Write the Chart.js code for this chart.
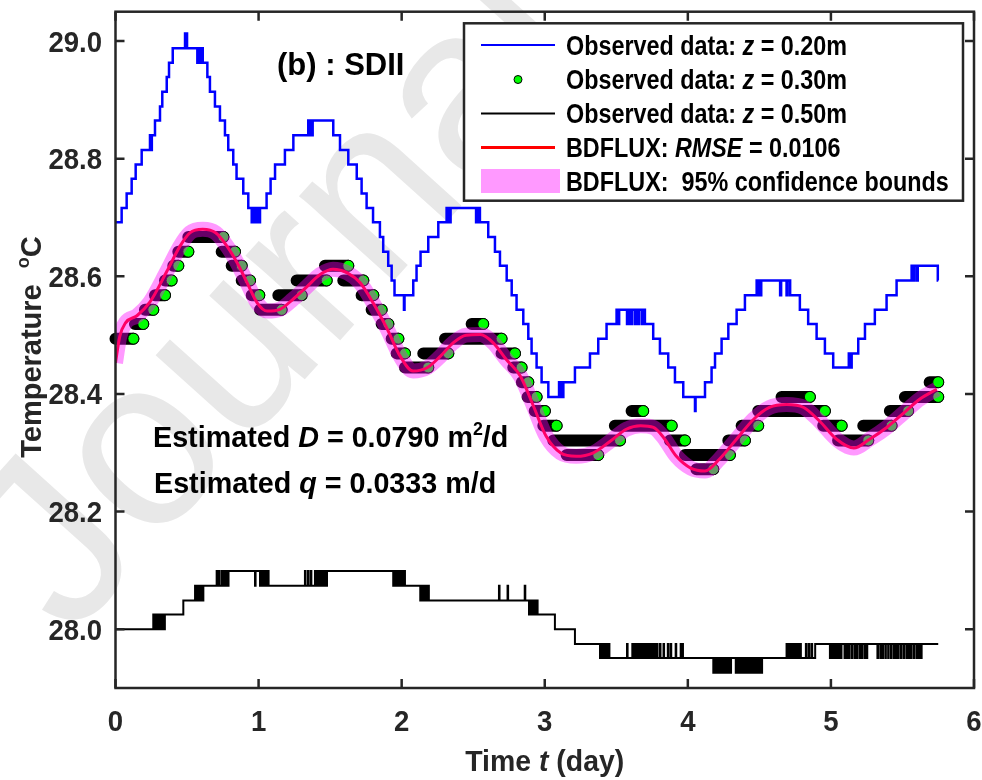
<!DOCTYPE html>
<html>
<head>
<meta charset="utf-8">
<script src="https://cdn.jsdelivr.net/npm/chart.js@4.4.1/dist/chart.umd.min.js"></script>
<style>
  html, body { margin: 0; padding: 0; background: #fff; }
  #wrap { width: 982px; height: 780px; }
</style>
</head>
<body>
<div id="wrap"><canvas id="myChart" width="982" height="780"></canvas></div>
<script>
// axis ticks
const xTicks = [0, 1, 2, 3, 4, 5, 6];
const xTickLabels = ['0', '1', '2', '3', '4', '5', '6'];
const yTicks = [28.0, 28.2, 28.4, 28.6, 28.8, 29.0];
const yTickLabels = ['28.0', '28.2', '28.4', '28.6', '28.8', '29.0'];

// z = 0.20m observed, change points [day, degC] (stepped)
const blueSteps = [
  [0.000,28.692],[0.043,28.716],[0.078,28.741],[0.113,28.766],[0.141,28.790],[0.183,28.815],[0.241,28.840],[0.250,28.815],[0.254,28.840],
  [0.276,28.865],[0.311,28.889],[0.327,28.914],[0.358,28.939],[0.374,28.963],[0.400,28.988],[0.486,29.013],[0.500,28.988],
  [0.572,28.963],[0.578,28.988],[0.588,28.963],[0.594,28.988],[0.610,28.963],[0.642,28.939],[0.660,28.914],[0.695,28.889],
  [0.730,28.865],[0.765,28.840],[0.788,28.815],[0.823,28.790],[0.846,28.766],[0.893,28.741],[0.928,28.716],[0.952,28.692],
  [0.962,28.716],[0.967,28.692],[0.978,28.716],[0.983,28.692],[0.995,28.716],[1.000,28.692],[1.010,28.716],[1.056,28.741],
  [1.084,28.766],[1.115,28.790],[1.184,28.815],[1.243,28.840],[1.347,28.865],[1.355,28.840],[1.362,28.865],[1.372,28.840],
  [1.378,28.865],[1.522,28.840],[1.569,28.815],[1.627,28.790],[1.686,28.766],[1.720,28.741],[1.755,28.716],[1.800,28.692],
  [1.848,28.667],[1.871,28.642],[1.906,28.618],[1.930,28.593],[1.950,28.568],[2.016,28.543],[2.020,28.568],[2.081,28.593],
  [2.104,28.618],[2.132,28.642],[2.186,28.667],[2.256,28.692],[2.314,28.716],[2.320,28.692],[2.326,28.716],[2.336,28.692],
  [2.342,28.716],[2.520,28.692],[2.527,28.716],[2.537,28.692],[2.541,28.716],[2.547,28.692],[2.605,28.667],[2.652,28.642],
  [2.687,28.618],[2.734,28.593],[2.769,28.568],[2.803,28.543],[2.850,28.519],[2.885,28.494],[2.908,28.469],[2.943,28.445],
  [2.978,28.420],[3.025,28.395],[3.100,28.420],[3.106,28.395],[3.116,28.420],[3.122,28.395],[3.130,28.420],[3.211,28.445],
  [3.316,28.469],[3.374,28.494],[3.432,28.519],[3.502,28.543],[3.515,28.519],[3.520,28.543],[3.575,28.519],[3.585,28.543],
  [3.600,28.519],[3.610,28.543],[3.630,28.519],[3.640,28.543],[3.655,28.519],[3.660,28.543],[3.680,28.519],[3.690,28.543],
  [3.700,28.519],[3.758,28.494],[3.805,28.469],[3.863,28.445],[3.910,28.420],[3.968,28.395],[4.050,28.371],[4.054,28.395],
  [4.120,28.420],[4.166,28.445],[4.190,28.469],[4.236,28.494],[4.283,28.519],[4.341,28.543],[4.399,28.568],[4.481,28.593],
  [4.490,28.568],[4.497,28.593],[4.507,28.568],[4.513,28.593],[4.645,28.568],[4.652,28.593],[4.690,28.568],[4.697,28.593],
  [4.715,28.568],[4.783,28.543],[4.841,28.519],[4.900,28.494],[4.958,28.469],[5.016,28.445],[5.125,28.469],[5.132,28.445],
  [5.145,28.469],[5.191,28.494],[5.238,28.519],[5.307,28.543],[5.389,28.568],[5.459,28.593],[5.564,28.618],[5.575,28.593],
  [5.582,28.618],[5.600,28.593],[5.607,28.618],[5.747,28.593],[5.750,28.593]
];

// z = 0.50m observed, change points [day, degC] (stepped, sensor flicker kept)
const blackSteps = [
  [0.000,28.000],
  [0.264,28.025],[0.270,28.000],[0.276,28.025],[0.282,28.000],[0.288,28.025],[0.294,28.000],[0.300,28.025],[0.306,28.000],
  [0.312,28.025],[0.318,28.000],[0.324,28.025],[0.330,28.000],[0.336,28.025],[0.340,28.000],[0.345,28.025],
  [0.474,28.049],
  [0.556,28.074],[0.562,28.049],[0.568,28.074],[0.574,28.049],[0.580,28.074],[0.586,28.049],[0.592,28.074],[0.598,28.049],
  [0.604,28.074],[0.608,28.049],[0.614,28.074],
  [0.707,28.099],[0.711,28.074],[0.722,28.099],[0.726,28.074],[0.742,28.099],[0.746,28.074],[0.758,28.099],[0.762,28.074],
  [0.772,28.099],[0.776,28.074],[0.790,28.099],
  [0.975,28.074],[0.979,28.099],
  [1.010,28.074],[1.016,28.099],[1.022,28.074],[1.028,28.099],[1.034,28.074],[1.040,28.099],[1.046,28.074],[1.052,28.099],
  [1.058,28.074],[1.064,28.099],[1.070,28.074],
  [1.324,28.099],[1.328,28.074],[1.345,28.099],[1.349,28.074],[1.365,28.099],[1.369,28.074],
  [1.394,28.099],[1.400,28.074],[1.406,28.099],[1.412,28.074],[1.418,28.099],[1.424,28.074],[1.430,28.099],[1.436,28.074],
  [1.442,28.099],[1.448,28.074],[1.454,28.099],[1.460,28.074],[1.466,28.099],[1.472,28.074],[1.478,28.099],
  [1.941,28.074],[1.947,28.099],[1.953,28.074],[1.959,28.099],[1.965,28.074],[1.971,28.099],[1.977,28.074],[1.983,28.099],
  [1.989,28.074],[1.995,28.099],[2.001,28.074],[2.007,28.099],[2.013,28.074],[2.019,28.099],[2.023,28.074],
  [2.130,28.049],[2.136,28.074],[2.142,28.049],[2.148,28.074],[2.154,28.049],[2.160,28.074],[2.166,28.049],[2.172,28.074],
  [2.178,28.049],[2.184,28.074],[2.190,28.049],
  [2.680,28.074],[2.684,28.049],[2.740,28.074],[2.744,28.049],[2.860,28.074],[2.864,28.049],
  [2.890,28.025],[2.896,28.049],[2.902,28.025],[2.908,28.049],[2.914,28.025],[2.920,28.049],[2.926,28.025],[2.932,28.049],
  [2.938,28.025],[2.944,28.049],[2.950,28.025],
  [3.071,28.000],
  [3.211,27.975],
  [3.386,27.951],[3.392,27.975],[3.396,27.951],[3.404,27.975],[3.408,27.951],[3.416,27.975],[3.420,27.951],[3.432,27.975],
  [3.436,27.951],[3.448,27.975],[3.452,27.951],[3.575,27.975],[3.579,27.951],
  [3.612,27.975],[3.616,27.951],[3.626,27.975],[3.630,27.951],[3.640,27.975],[3.644,27.951],[3.654,27.975],[3.658,27.951],
  [3.668,27.975],[3.672,27.951],[3.682,27.975],[3.686,27.951],[3.696,27.975],[3.700,27.951],[3.710,27.975],[3.714,27.951],
  [3.724,27.975],[3.728,27.951],[3.738,27.975],[3.742,27.951],[3.752,27.975],[3.756,27.951],[3.766,27.975],[3.770,27.951],
  [3.784,27.975],[3.788,27.951],[3.805,27.975],[3.809,27.951],[3.830,27.975],[3.834,27.951],[3.860,27.975],[3.864,27.951],
  [3.880,27.975],[3.884,27.951],[3.915,27.975],[3.919,27.951],[3.950,27.975],[3.954,27.951],[3.962,27.975],[3.966,27.951],
  [4.178,27.926],[4.182,27.951],[4.190,27.926],[4.194,27.951],[4.202,27.926],[4.206,27.951],[4.214,27.926],[4.218,27.951],
  [4.226,27.926],[4.230,27.951],[4.238,27.926],[4.242,27.951],[4.250,27.926],[4.254,27.951],[4.262,27.926],[4.266,27.951],
  [4.274,27.926],[4.278,27.951],[4.286,27.926],[4.290,27.951],[4.298,27.926],[4.302,27.951],[4.335,27.926],[4.339,27.951],
  [4.347,27.926],[4.351,27.951],[4.359,27.926],[4.363,27.951],[4.371,27.926],[4.375,27.951],[4.383,27.926],[4.387,27.951],
  [4.395,27.926],[4.399,27.951],[4.407,27.926],[4.411,27.951],[4.419,27.926],[4.423,27.951],[4.431,27.926],[4.435,27.951],
  [4.443,27.926],[4.447,27.951],[4.455,27.926],[4.459,27.951],[4.467,27.926],[4.471,27.951],[4.479,27.926],[4.483,27.951],
  [4.491,27.926],[4.495,27.951],[4.503,27.926],[4.507,27.951],[4.515,27.926],[4.519,27.951],
  [4.690,27.975],[4.694,27.951],[4.702,27.975],[4.706,27.951],[4.714,27.975],[4.718,27.951],[4.726,27.975],[4.730,27.951],
  [4.738,27.975],[4.742,27.951],[4.750,27.975],[4.754,27.951],[4.762,27.975],[4.766,27.951],[4.774,27.975],[4.778,27.951],
  [4.786,27.975],[4.790,27.951],[4.825,27.975],[4.829,27.951],[4.845,27.975],[4.849,27.951],[4.865,27.975],[4.869,27.951],
  [4.890,27.975],
  [4.993,27.951],[4.997,27.975],[5.008,27.951],[5.012,27.975],[5.023,27.951],[5.027,27.975],[5.038,27.951],[5.042,27.975],
  [5.053,27.951],[5.057,27.975],[5.070,27.951],[5.074,27.975],[5.095,27.951],[5.099,27.975],[5.110,27.951],[5.114,27.975],
  [5.125,27.951],[5.129,27.975],[5.145,27.951],[5.149,27.975],[5.165,27.951],[5.169,27.975],[5.180,27.951],[5.184,27.975],
  [5.200,27.951],[5.204,27.975],[5.215,27.951],[5.219,27.975],[5.235,27.951],[5.239,27.975],[5.250,27.951],[5.254,27.975],
  [5.325,27.951],[5.329,27.975],[5.345,27.951],[5.349,27.975],[5.360,27.951],[5.364,27.975],[5.380,27.951],[5.384,27.975],
  [5.400,27.951],[5.404,27.975],[5.420,27.951],[5.424,27.975],[5.440,27.951],[5.444,27.975],[5.455,27.951],[5.459,27.975],
  [5.470,27.951],[5.474,27.975],[5.490,27.951],[5.494,27.975],[5.510,27.951],[5.514,27.975],[5.530,27.951],[5.534,27.975],
  [5.545,27.951],[5.549,27.975],[5.560,27.951],[5.564,27.975],[5.580,27.951],[5.584,27.975],[5.600,27.951],[5.604,27.975],
  [5.615,27.951],[5.619,27.975],[5.630,27.951],[5.634,27.975],
  [5.750,27.975]
];

// z = 0.30m observed: runs of repeated readings (first day, last day, degC)
const gStart = [0.000,0.136,0.206,0.276,0.346,0.404,0.439,0.509,0.742,0.812,0.882,0.952,1.010,1.138,1.266,1.464,1.592,
  1.720,1.790,1.860,1.930,1.965,2.023,2.151,2.303,2.489,2.698,2.780,2.840,2.880,2.930,2.990,3.060,3.153,3.490,3.607,
  3.875,3.980,4.060,4.283,4.376,4.492,4.655,4.946,5.050,5.226,5.412,5.517,5.690];
const gEnd = [0.125,0.194,0.264,0.346,0.392,0.439,0.509,0.754,0.835,0.882,0.940,1.005,1.161,1.301,1.476,1.627,1.732,
  1.802,1.860,1.907,1.977,2.023,2.186,2.326,2.698,2.570,2.792,2.838,2.885,2.943,3.001,3.083,3.526,3.374,3.887,3.688,
  3.980,4.294,4.178,4.399,4.492,4.958,4.853,5.075,5.261,5.424,5.540,5.750,5.750];
const gLevel = [28.494,28.519,28.543,28.568,28.593,28.618,28.642,28.667,28.642,28.618,28.593,28.568,28.543,28.568,28.593,
  28.618,28.593,28.568,28.543,28.519,28.494,28.469,28.445,28.469,28.494,28.519,28.469,28.445,28.420,28.395,28.371,28.346,
  28.321,28.296,28.346,28.371,28.321,28.296,28.272,28.321,28.346,28.371,28.395,28.346,28.321,28.346,28.371,28.395,28.420];

// BDFLUX fit at z = 0.30m
const fitT = [0.00,0.03,0.07,0.15,0.24,0.36,0.45,0.52,0.61,0.70,0.78,0.85,0.92,0.99,1.06,1.15,1.24,1.34,1.43,1.52,
  1.62,1.71,1.80,1.90,1.99,2.08,2.18,2.27,2.36,2.45,2.55,2.64,2.73,2.83,2.92,3.01,3.11,3.22,3.34,3.46,3.57,3.67,3.76,
  3.83,3.92,4.02,4.12,4.22,4.34,4.46,4.57,4.69,4.81,4.92,5.04,5.16,5.27,5.39,5.51,5.62,5.74];
const fitV = [28.453,28.498,28.521,28.533,28.556,28.609,28.651,28.674,28.680,28.674,28.651,28.623,28.589,28.555,28.541,
  28.544,28.561,28.583,28.603,28.612,28.606,28.589,28.555,28.510,28.464,28.439,28.445,28.464,28.487,28.500,28.501,28.487,
  28.459,28.430,28.380,28.328,28.300,28.294,28.300,28.320,28.340,28.346,28.343,28.326,28.294,28.274,28.269,28.289,28.323,
  28.357,28.377,28.382,28.377,28.354,28.323,28.308,28.323,28.343,28.368,28.391,28.408];

const FONT = '"Liberation Sans", Arial, sans-serif';
const INK = '#262626';
const PINK = 'rgba(255,0,255,0.4)';

const bluePts = blueSteps.map(p => ({x: p[0], y: p[1]}));
const blackPts = blackSteps.map(p => ({x: p[0], y: p[1]}));
const fitPts = fitT.map((t, i) => ({x: t, y: fitV[i]}));
// each run of equal readings: overlapping markers make a dark bar, last marker stays green
const runPts = [];
gStart.forEach((s, i) => {
  runPts.push({x: s, y: gLevel[i]}, {x: gEnd[i], y: gLevel[i]}, {x: gEnd[i], y: null});
});
const lastPts = gEnd.map((e, i) => ({x: e, y: gLevel[i]}));

// text with italic / superscript parts, sx squeezes it horizontally
function drawRich(ctx, parts, x, y, size, align, sx) {
  sx = sx || 1;
  const fontOf = p => (p.i ? 'italic ' : '') + 'bold ' + (p.sup ? Math.round(size * 0.62) : size) + 'px ' + FONT;
  let w = 0;
  const ws = parts.map(p => { ctx.font = fontOf(p); const m = ctx.measureText(p.t).width; w += m; return m; });
  ctx.save();
  ctx.translate(x, y);
  ctx.scale(sx, 1);
  ctx.textAlign = 'left';
  ctx.textBaseline = 'alphabetic';
  let cx = align === 'center' ? -w / 2 : (align === 'right' ? -w : 0);
  parts.forEach((p, k) => {
    ctx.font = fontOf(p);
    ctx.fillText(p.t, cx, p.sup ? -size * 0.42 : 0);
    cx += ws[k];
  });
  ctx.restore();
}

const decor = {
  id: 'decor',
  beforeDatasetsDraw(chart) {
    const ctx = chart.ctx;
    ctx.save();
    ctx.translate(70, 640);
    ctx.rotate(-48 * Math.PI / 180);
    ctx.font = '240px ' + FONT;
    ctx.fillStyle = '#e8e8e8';
    ctx.fillText('Journal Pre-proof', 0, 0);
    ctx.restore();
  },
  afterDatasetsDraw(chart) {
    const {ctx, chartArea: a, scales: {x, y}} = chart;
    ctx.save();
    ctx.strokeStyle = INK;
    ctx.lineWidth = 2.5;
    ctx.beginPath();
    xTicks.forEach(v => {
      const px = x.getPixelForValue(v);
      ctx.moveTo(px, a.bottom); ctx.lineTo(px, a.bottom - 9);
      ctx.moveTo(px, a.top); ctx.lineTo(px, a.top + 9);
    });
    yTicks.forEach(v => {
      const py = y.getPixelForValue(v);
      ctx.moveTo(a.left, py); ctx.lineTo(a.left + 9, py);
      ctx.moveTo(a.right, py); ctx.lineTo(a.right - 9, py);
    });
    ctx.stroke();
    ctx.strokeRect(a.left, a.top, a.right - a.left, a.bottom - a.top);

    ctx.fillStyle = INK;
    xTicks.forEach((v, i) => drawRich(ctx, [{t: xTickLabels[i]}], x.getPixelForValue(v), 731, 29, 'center', 0.95));
    yTicks.forEach((v, i) => drawRich(ctx, [{t: yTickLabels[i]}], 102, y.getPixelForValue(v) + 10.5, 29, 'right', 0.95));
    drawRich(ctx, [{t: 'Time '}, {t: 't', i: 1}, {t: ' (day)'}], (a.left + a.right) / 2, 771, 29, 'center', 0.98);
    ctx.save();
    ctx.translate(41, 347);
    ctx.rotate(-Math.PI / 2);
    drawRich(ctx, [{t: 'Temperature  '}, {t: 'o', sup: 1}, {t: 'C'}], 0, 0, 29, 'center', 1);
    ctx.restore();

    ctx.fillStyle = '#000';
    drawRich(ctx, [{t: '(b) : SDII'}], 277, 75, 31, 'left', 1);
    drawRich(ctx, [{t: 'Estimated '}, {t: 'D', i: 1}, {t: ' = 0.0790 m'}, {t: '2', sup: 1}, {t: '/d'}], 153, 447, 29, 'left', 0.99);
    drawRich(ctx, [{t: 'Estimated '}, {t: 'q', i: 1}, {t: ' = 0.0333 m/d'}], 154, 493, 29, 'left', 0.99);

    // legend
    const L = 464, T = 23.3, R = 963, B = 200.7;
    ctx.fillStyle = '#fff';
    ctx.fillRect(L, T, R - L, B - T);
    ctx.strokeStyle = INK;
    ctx.lineWidth = 2.5;
    ctx.strokeRect(L, T, R - L, B - T);
    const rows = [
      [{t: 'Observed data: '}, {t: 'z', i: 1}, {t: ' = 0.20m'}],
      [{t: 'Observed data: '}, {t: 'z', i: 1}, {t: ' = 0.30m'}],
      [{t: 'Observed data: '}, {t: 'z', i: 1}, {t: ' = 0.50m'}],
      [{t: 'BDFLUX: '}, {t: 'RMSE', i: 1}, {t: ' = 0.0106'}],
      [{t: 'BDFLUX:  95% confidence bounds'}]
    ];
    const rowY = [45, 79.5, 113.5, 147.5, 181];
    const lineCol = ['#0000ff', null, '#000000', '#ff0000'];
    lineCol.forEach((c, i) => {
      if (!c) return;
      ctx.strokeStyle = c;
      ctx.lineWidth = i === 3 ? 3 : 2;
      ctx.beginPath(); ctx.moveTo(481, rowY[i]); ctx.lineTo(555, rowY[i]); ctx.stroke();
    });
    ctx.beginPath();
    ctx.arc(518, rowY[1], 4, 0, Math.PI * 2);
    ctx.fillStyle = '#00ff00'; ctx.fill();
    ctx.lineWidth = 1; ctx.strokeStyle = '#000'; ctx.stroke();
    ctx.fillStyle = PINK;
    ctx.fillRect(481, 169, 79, 24);
    ctx.fillStyle = '#000';
    rows.forEach((r, i) => drawRich(ctx, r, 566, rowY[i] + 9.5, 27, 'left', 0.865));
    ctx.restore();
  }
};

new Chart(document.getElementById('myChart'), {
  type: 'line',
  data: {
    datasets: [
      { label: 'BDFLUX: 95% confidence bounds', data: fitPts, borderColor: PINK, borderWidth: 15,
        cubicInterpolationMode: 'monotone', pointRadius: 0, order: 0 },
      { label: 'BDFLUX: RMSE = 0.0106', data: fitPts, borderColor: '#ff0000', borderWidth: 3,
        cubicInterpolationMode: 'monotone', pointRadius: 0, order: 1 },
      { label: 'Observed data: z = 0.30m', data: lastPts, showLine: false, pointRadius: 5.5,
        pointBackgroundColor: '#00ff00', pointBorderColor: '#000', pointBorderWidth: 1, clip: false, order: 2 },
      { label: 'z = 0.30m runs', data: runPts, borderColor: '#000', borderWidth: 12, borderCapStyle: 'round',
        spanGaps: false, pointRadius: 0, clip: false, order: 3 },
      { label: 'Observed data: z = 0.50m', data: blackPts, stepped: true, borderColor: '#000', borderWidth: 2,
        pointRadius: 0, order: 4 },
      { label: 'Observed data: z = 0.20m', data: bluePts, stepped: true, borderColor: '#0000ff', borderWidth: 2.5,
        pointRadius: 0, order: 5 }
    ]
  },
  options: {
    responsive: false,
    animation: false,
    devicePixelRatio: 1,
    layout: { padding: { left: 115.5, right: 8, top: 11.7, bottom: 92 } },
    plugins: { legend: { display: false }, tooltip: { enabled: false } },
    scales: {
      x: { type: 'linear', min: 0, max: 6, display: false },
      y: { type: 'linear', min: 27.9, max: 29.05, display: false }
    }
  },
  plugins: [decor]
});
</script>
</body>
</html>
